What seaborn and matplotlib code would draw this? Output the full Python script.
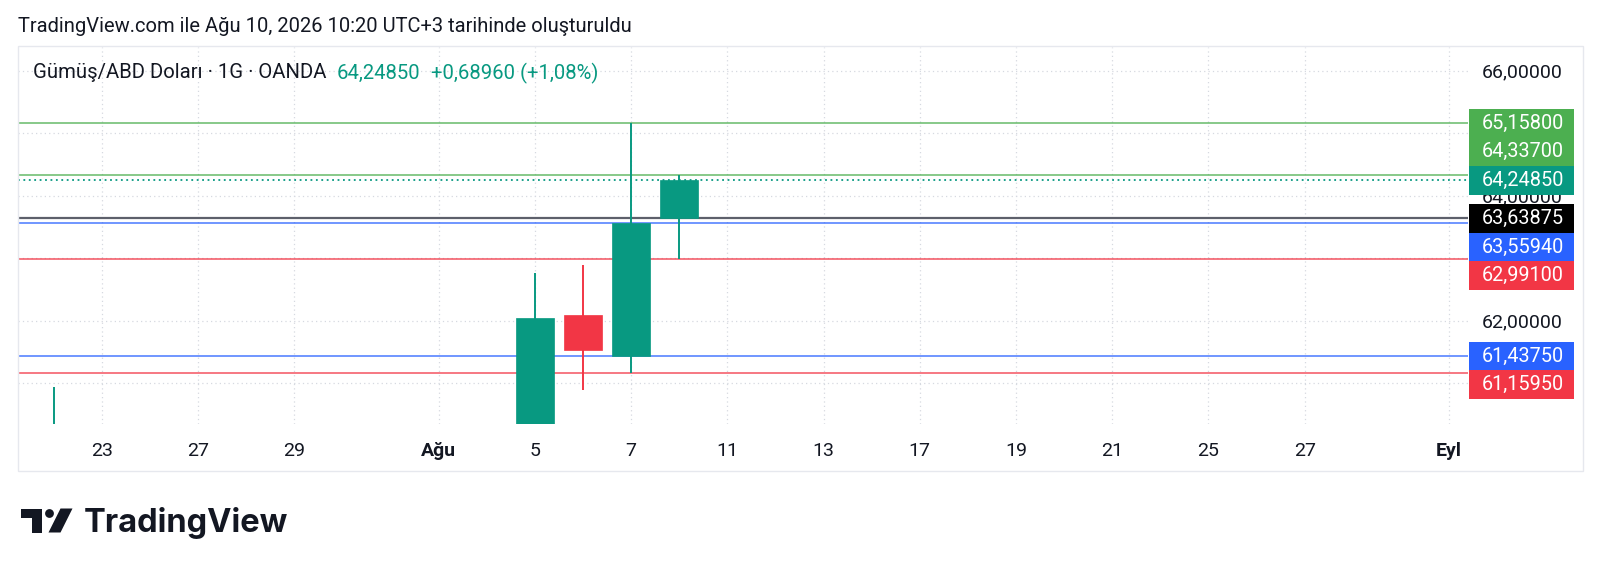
import numpy as np
import pandas as pd
import matplotlib
matplotlib.use("Agg")
import matplotlib.pyplot as plt
import matplotlib.transforms as mtransforms
from matplotlib.patches import Rectangle, Polygon, Circle
import seaborn as sns

# daily candles (OANDA XAG/USD)
candle_dates = ["2026-07-22", "2026-08-05", "2026-08-06", "2026-08-07", "2026-08-10"]
opens = [59.80, 59.95, 62.10, 61.4375, 63.63875]
highs = [60.94, 62.76, 62.90, 65.158, 64.337]
lows = [59.50, 59.60, 60.89, 61.1595, 62.991]
closes = [60.20, 62.04, 61.53, 63.5594, 64.2485]

# horizontal levels drawn on the chart
level_prices = [65.158, 64.337, 64.2485, 63.63875, 63.5594, 62.991, 61.4375, 61.1595]
level_colors = ["#4caf50", "#4caf50", "#089981", "#000000",
                "#2962ff", "#f23645", "#2962ff", "#f23645"]
level_styles = ["-", "-", ":", "-", "-", "-", "-", "-"]
current_idx = 2

tick_dates = ["2026-07-23", "2026-07-27", "2026-07-29", "2026-08-03", "2026-08-05",
              "2026-08-07", "2026-08-11", "2026-08-13", "2026-08-17", "2026-08-19",
              "2026-08-21", "2026-08-25", "2026-08-27", "2026-09-01"]
tick_labels = ["23", "27", "29", "Ağu", "5", "7", "11", "13", "17", "19", "21", "25", "27", "Eyl"]
bold_ticks = ["Ağu", "Eyl"]
price_ticks = [62, 64, 66]
grid_prices = [61, 62, 63, 64, 65, 66]

UP = "#089981"
DOWN = "#f23645"
TXT = "#131722"

sns.set_theme(style="white")
plt.rcParams["font.family"] = ["Roboto", "DejaVu Sans"]

W, H = 1600, 573
fig = plt.figure(figsize=(W / 100, H / 100), dpi=100)
fig.patch.set_facecolor("white")


def fx(x):
    return x / W


def fy(y):
    return 1 - y / H


# pane: x 18..1468, y 47..424 (pixels)
ax = fig.add_axes([fx(18), fy(424), fx(1468) - fx(18), fy(47) - fy(424)])
ax.set_facecolor("white")
for s in ax.spines.values():
    s.set_visible(False)

# trading-day axis (weekends removed)
days = pd.bdate_range("2026-07-20", "2026-09-11")
pos = {d.strftime("%Y-%m-%d"): i for i, d in enumerate(days)}

df = pd.DataFrame({"date": candle_dates, "open": opens, "high": highs,
                   "low": lows, "close": closes})
df["x"] = df["date"].map(pos)
df["color"] = np.where(df["close"] >= df["open"], UP, DOWN)

# levels
for p, c, ls in zip(level_prices, level_colors, level_styles):
    if c == "#000000":
        ax.axhline(p, color="#5d606b", lw=1.6, ls=ls, zorder=2)
    elif ls == ":":
        ax.axhline(p, color=c, lw=1.3, ls=(0, (1, 2)), zorder=2)
    else:
        ax.axhline(p, color=c, lw=1.1, ls=ls, alpha=0.85, zorder=2)

# candles
ax.vlines(df["x"], df["low"], df["high"], colors=df["color"], lw=1.4, zorder=3)
ax.bar(df["x"], df["close"] - df["open"], bottom=df["open"], width=0.79,
       color=df["color"], edgecolor=df["color"], lw=0.5, zorder=4)

# scales
ax.set_xlim(1.254, 31.396)
ax.set_ylim(60.349, 66.381)

ax.set_xticks([pos[d] for d in tick_dates])
ax.set_xticklabels(tick_labels)
for lab in ax.get_xticklabels():
    lab.set_fontsize(14)
    lab.set_color(TXT)
    if lab.get_text() in bold_ticks:
        lab.set_fontweight("bold")
ax.tick_params(axis="x", length=0, pad=13)

ax.yaxis.tick_right()
ax.set_yticks(price_ticks)
ax.set_yticklabels([f"{v:.5f}".replace(".", ",") for v in price_ticks])
ax.set_yticks(grid_prices, minor=True)
ax.tick_params(axis="y", which="both", length=0, pad=10, labelsize=14, labelcolor=TXT)

ax.grid(True, which="both", color="#d6d9e0", lw=0.9, ls=(0, (1, 2.5)))
ax.set_axisbelow(True)

# price labels on the scale, pushed apart so they don't overlap
gap = 0.4576
lab_pos = list(level_prices)
for i in range(current_idx - 1, -1, -1):
    lab_pos[i] = max(level_prices[i], lab_pos[i + 1] + gap)
for i in range(current_idx + 1, len(level_prices)):
    lab_pos[i] = min(level_prices[i], lab_pos[i - 1] - gap)

blend = mtransforms.blended_transform_factory(ax.transAxes, ax.transData)
bx0 = (1469 - 18) / 1450
bx1 = (1574 - 18) / 1450
tx = (1482 - 18) / 1450
for p, lp, c in zip(level_prices, lab_pos, level_colors):
    ax.add_patch(Rectangle((bx0, lp - gap / 2), bx1 - bx0, gap, transform=blend,
                           facecolor=c, edgecolor="none", clip_on=False, zorder=6))
    ax.text(tx, lp, f"{p:.5f}".replace(".", ","), transform=blend, color="white",
            fontsize=14.3, va="center", ha="left", clip_on=False, zorder=7)

# frame around chart
fig.add_artist(Rectangle((fx(18), fy(471)), fx(1583) - fx(18), fy(46) - fy(471),
                         transform=fig.transFigure, fill=False, ec="#e6e8ee", lw=1))

# header texts
fig.text(fx(18), fy(26), "TradingView.com ile Ağu 10, 2026 10:20 UTC+3 tarihinde oluşturuldu",
         fontsize=14.5, color=TXT, va="center", ha="left")

renderer = fig.canvas.get_renderer()
xcur = 33
for s, c, g in [("Gümüş/ABD Doları · 1G · OANDA", TXT, 10),
                ("64,24850", UP, 11),
                ("+0,68960 (+1,08%)", UP, 0)]:
    t = fig.text(fx(xcur), fy(73), s, fontsize=14.6, color=c, va="center", ha="left")
    bb = t.get_window_extent(renderer)
    xcur = bb.x1 + g

# TradingView logo
ident = mtransforms.IdentityTransform()


def pix(pts):
    return [(x, H - y) for x, y in pts]


fig.add_artist(Polygon(pix([(21, 508.5), (41.7, 508.5), (41.7, 532.5), (31.5, 532.5),
                            (31.5, 517.7), (21, 517.7)]), closed=True,
                       transform=ident, fc=TXT, ec="none"))
fig.add_artist(Circle((49.5, H - 513.5), 4.4, transform=ident, fc=TXT, ec="none"))
fig.add_artist(Polygon(pix([(60.5, 508.5), (72.5, 508.5), (60.5, 532.5), (48.5, 532.5)]),
                       closed=True, transform=ident, fc=TXT, ec="none"))
fig.text(fx(84), fy(532), "TradingView", fontsize=23.5, fontweight="bold",
         color=TXT, va="baseline", ha="left", family=["Inter", "DejaVu Sans"])

fig.savefig("out.png", dpi=100, facecolor="white")
